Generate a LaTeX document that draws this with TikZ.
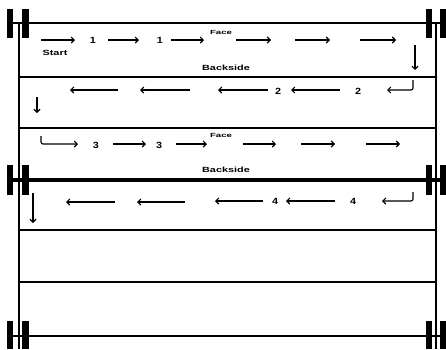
\documentclass[tikz,border=0pt]{standalone}
\usepackage{fontspec}
\setmainfont{Liberation Sans}
\usetikzlibrary{arrows.meta}
\newcommand\widetext[2]{\scalebox{#1}[1]{#2}}
\begin{document}
\begin{tikzpicture}[x=1pt,y=-1pt,
  arr/.style={line width=1.1pt,-{Straight Barb[length=3pt,width=6pt]}},
  hookarr/.style={arr,rounded corners=2pt},
  rail/.style={line width=2.6pt},
  bigrail/.style={line width=4.5pt},
  thinrail/.style={line width=2pt},
  post/.style={line width=2pt},
  hbar/.style={line width=6.5pt},
  num/.style={font=\fontsize{9}{9}\selectfont\bfseries,inner sep=0pt},
  lbl/.style={font=\fontsize{7.5}{7.5}\selectfont\bfseries,inner sep=0pt},
  facelbl/.style={font=\fontsize{6}{6}\selectfont\bfseries,inner sep=0pt}
]
\useasboundingbox (0,0) rectangle (446,349);
% vertical posts
\draw[post] (19,23) -- (19,349);
\draw[post] (436,23) -- (436,349);
% horizontal rails
\draw[rail] (7,23) -- (446,23);
\draw[rail] (19,77) -- (436,77);
\draw[rail] (19,128) -- (436,128);
\draw[bigrail] (7,180) -- (446,180);
\draw[rail] (19,230) -- (436,230);
\draw[thinrail] (19,282) -- (436,282);
\draw[rail] (7,336) -- (446,336);
% H clamps
\foreach \ya/\yb in {9/38, 165/195, 321/349}{
  \draw[hbar] (10,\ya) -- (10,\yb);
  \draw[hbar] (25.5,\ya) -- (25.5,\yb);
  \draw[hbar] (429,\ya) -- (429,\yb);
  \draw[hbar] (443.5,\ya) -- (443.5,\yb);
}
% Row 1
\draw[arr] (41,40) -- (75,40);
\node[num] (r1a) at (93,40) {\widetext{1.2}{1}};
\draw[arr] (108,40) -- (139,40);
\node[num] (r1b) at (160,40) {\widetext{1.2}{1}};
\draw[arr] (171,40) -- (204,40);
\node[facelbl] (face1) at (221,32) {\widetext{1.6}{Face}};
\draw[arr] (236,40) -- (271,40);
\draw[arr] (295,40) -- (330,40);
\draw[arr] (360,40) -- (396,40);
\draw[arr] (415,45) -- (415,70);
\node[lbl] (start) at (55,53) {\widetext{1.45}{Start}};
\node[lbl] (back1) at (226,68) {\widetext{1.45}{Backside}};
% Row 2
\draw[hookarr] (413,80) -- (413,90) -- (387,90);
\node[num] (r2b) at (358,91) {\widetext{1.2}{2}};
\draw[arr] (340,90) -- (291,90);
\node[num] (r2a) at (278,91) {\widetext{1.2}{2}};
\draw[arr] (268,90) -- (218,90);
\draw[arr] (190,90) -- (140,90);
\draw[arr] (118,90) -- (70,90);
\draw[arr] (37,97) -- (37,113);
% Row 3
\draw[hookarr] (41,136) -- (41,144) -- (78,144);
\node[num] (r3a) at (96,145) {\widetext{1.2}{3}};
\draw[arr] (113,144) -- (146,144);
\node[num] (r3b) at (159,145) {\widetext{1.2}{3}};
\draw[arr] (176,144) -- (207,144);
\node[facelbl] (face2) at (221,135) {\widetext{1.6}{Face}};
\draw[arr] (243,144) -- (276,144);
\draw[arr] (301,144) -- (335,144);
\draw[arr] (366,144) -- (400,144);
\node[lbl] (back2) at (226,170) {\widetext{1.45}{Backside}};
% Row 4
\draw[hookarr] (413,192) -- (413,201) -- (382,201);
\node[num] (r4b) at (353,201) {\widetext{1.2}{4}};
\draw[arr] (335,201) -- (286,201);
\node[num] (r4a) at (275,201) {\widetext{1.2}{4}};
\draw[arr] (263,201) -- (215,201);
\draw[arr] (185,202) -- (137,202);
\draw[arr] (115,202) -- (66,202);
\draw[arr] (33,193) -- (33,223);
\end{tikzpicture}
\end{document}
